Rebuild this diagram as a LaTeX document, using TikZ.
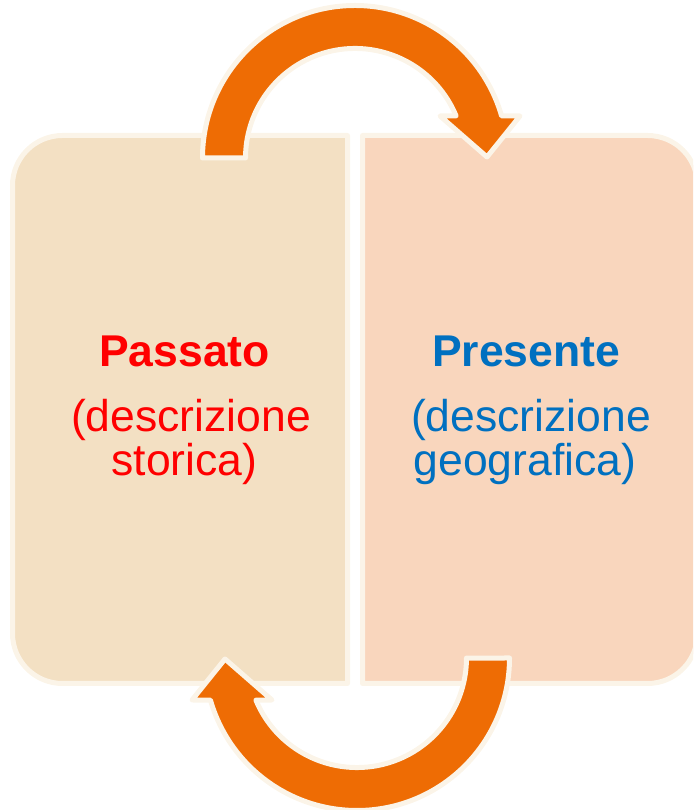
\documentclass[tikz,border=0pt]{standalone}
\usepackage{fontspec}
\setmainfont{Liberation Sans}
\usepackage{tikz}

\definecolor{leftfill}{HTML}{F3E0C3}
\definecolor{rightfill}{HTML}{F9D6BD}
\definecolor{rimcol}{HTML}{FBF4E8}
\definecolor{arrowcol}{HTML}{EE6C04}
\definecolor{pastred}{HTML}{FF0000}
\definecolor{nowblue}{HTML}{0070C0}

\begin{document}
\begin{tikzpicture}[line cap=round,line join=round,x=1pt,y=1pt,
    rim/.style={draw=rimcol,line width=5pt},
    cyclearrow/.style={rim,fill=arrowcol},
    titletext/.style={anchor=base,inner sep=0pt,font=\fontsize{44.5}{53}\selectfont\bfseries},
    desctext/.style={anchor=base,inner sep=0pt,font=\fontsize{44.5}{53}\selectfont}]
        \useasboundingbox (0,0) rectangle (693,810);
        \clip (0,0) rectangle (693,810);
        % boxes
        \draw [rim,fill=leftfill] (347.5,674.5) -- (62.5,674.5) arc[start angle=90,end angle=180,radius=50] -- (12.5,176.5) arc[start angle=180,end angle=270,radius=50] -- (347.5,126.5) -- cycle;
        \draw [rim,fill=rightfill] (362.5,674.5) -- (647.5,674.5) arc[start angle=90,end angle=0,radius=50] -- (697.5,176.5) arc[start angle=0,end angle=-90,radius=50] -- (362.5,126.5) -- cycle;
        % top arrow
        \draw [cyclearrow] (202.5,652) arc[start angle=180,end angle=16,radius=152.5] -- (520,694) -- (487,653) -- (440,694) -- (456.1,694.1) arc[start angle=22.6,end angle=180,radius=109.5] -- cycle;
        % bottom arrow
        \begin{scope}[rotate around={180:(356,402)}]
            \draw [cyclearrow] (202.5,652) arc[start angle=180,end angle=16,radius=152.5] -- (520,694) -- (487,653) -- (440,694) -- (456.1,694.1) arc[start angle=22.6,end angle=180,radius=109.5] -- cycle;
        \end{scope}
        % texts
        \node [titletext,text=pastred] (passato) at (184.5,443) {Passato};
        \node [desctext,text=pastred] (passatoa) at (191,378) {(descrizione};
        \node [desctext,text=pastred] (passatob) at (184.5,334) {storica)};
        \node [titletext,text=nowblue] (presente) at (526,443) {Presente};
        \node [desctext,text=nowblue] (presentea) at (531,378) {(descrizione};
        \node [desctext,text=nowblue] (presenteb) at (525,334) {geografica)};
    \end{tikzpicture}
\end{document}
